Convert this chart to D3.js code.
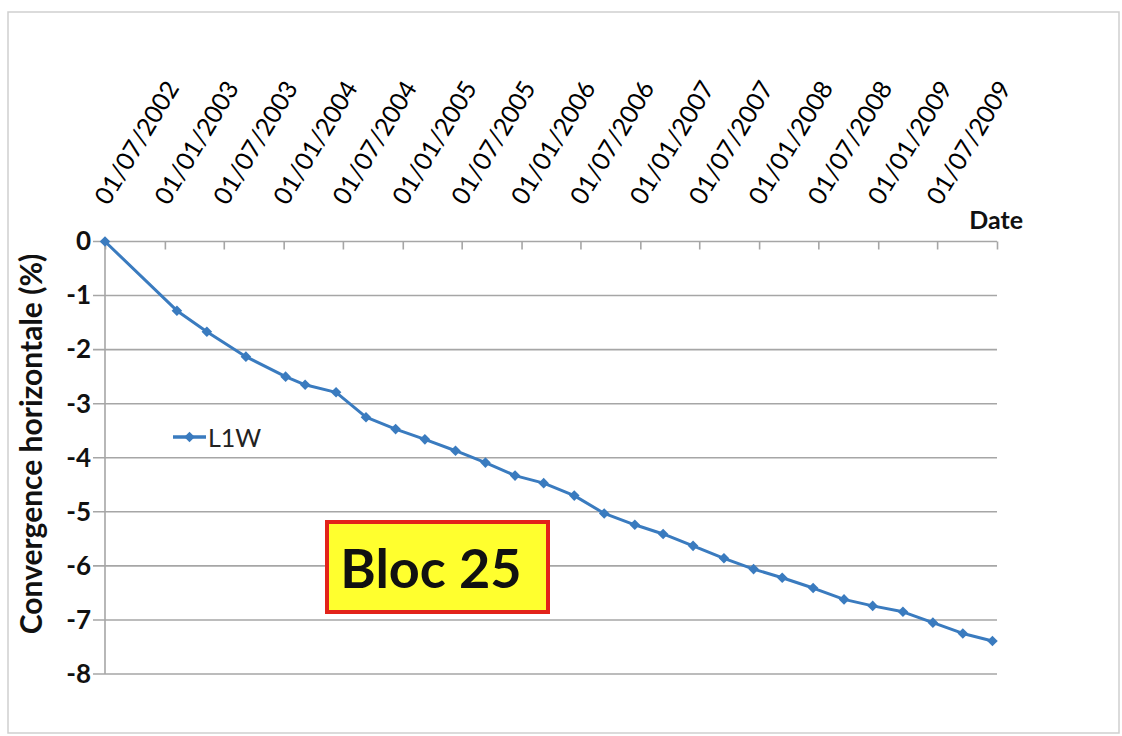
<!DOCTYPE html>
<html><head><meta charset="utf-8">
<script src="https://cdn.jsdelivr.net/npm/d3@7"></script>
<style>
body{margin:0;background:#fff;}
svg{display:block;font-family:Lato,"Open Sans",sans-serif;}
</style>
</head><body>
<svg id="chart" width="1122" height="736"></svg>
<script>
// ---- data ----
const dates = ["2002-07-01","2003-02-07","2003-05-10","2003-09-07","2004-01-07","2004-03-07","2004-06-10",
  "2004-09-10","2004-12-10","2005-03-10","2005-06-12","2005-09-12","2005-12-12","2006-03-10","2006-06-12",
  "2006-09-12","2006-12-15","2007-03-12","2007-06-12","2007-09-15","2007-12-15","2008-03-12","2008-06-15",
  "2008-09-18","2008-12-15","2009-03-18","2009-06-18","2009-09-18","2009-12-18"];
const l1w = [0,-1.28,-1.67,-2.13,-2.50,-2.65,-2.79,-3.25,-3.47,-3.66,-3.87,-4.09,-4.33,-4.47,-4.70,
  -5.03,-5.24,-5.41,-5.63,-5.86,-6.06,-6.22,-6.41,-6.62,-6.74,-6.85,-7.05,-7.25,-7.39];
const tickLabels = ["01/07/2002","01/01/2003","01/07/2003","01/01/2004","01/07/2004","01/01/2005",
  "01/07/2005","01/01/2006","01/07/2006","01/01/2007","01/07/2007","01/01/2008","01/07/2008",
  "01/01/2009","01/07/2009"];
const axisEnd = "01/01/2010";
const yTicks = [0,-1,-2,-3,-4,-5,-6,-7,-8];
const seriesName = "L1W";
const yTitle = "Convergence horizontale (%)";
const xTitle = "Date";
const boxText = "Bloc 25";

// ---- setup ----
const svg = d3.select("#chart");
const parseISO = d3.timeParse("%Y-%m-%d");
const parseFR = d3.timeParse("%d/%m/%Y");
const pts = dates.map((d,i)=>({date:parseISO(d), v:l1w[i]}));
const tickDates = tickLabels.map(parseFR).concat([parseFR(axisEnd)]);

const x = d3.scaleTime().domain([parseFR(tickLabels[0]), parseFR(axisEnd)]).range([105, 997]);
const y = d3.scaleLinear().domain([0,-8]).range([241.5, 674]);

const blue = "#3a7bbf";
const grid = "#a6a6a6";

// outer border
svg.append("rect").attr("x",8).attr("y",12).attr("width",1111).attr("height",721)
  .attr("fill","#fff").attr("stroke","#cfcfcf").attr("stroke-width",1.5);

// gridlines
svg.append("g").selectAll("line").data(yTicks).join("line")
  .attr("x1",93).attr("x2",x.range()[1])
  .attr("y1",d=>y(d)).attr("y2",d=>y(d))
  .attr("stroke",grid).attr("stroke-width",1.6);

// y axis line
svg.append("line").attr("x1",x.range()[0]).attr("x2",x.range()[0])
  .attr("y1",y(0)).attr("y2",y(-8)).attr("stroke",grid).attr("stroke-width",1.6);

// y tick labels
const yAxis = svg.append("g").attr("transform",`translate(${x.range()[0]},0)`)
  .call(d3.axisLeft(y).tickValues(yTicks).tickSize(0).tickPadding(14).tickFormat(d=>String(d)));
yAxis.select(".domain").remove();
yAxis.selectAll("text").attr("font-family","Lato, sans-serif").attr("font-size",26)
  .attr("font-weight","bold").attr("fill","#111");

// x axis on top (at y=0)
const xAxis = svg.append("g").attr("transform",`translate(0,${y(0)})`)
  .call(d3.axisTop(x).tickValues(tickDates).tickSizeInner(-8).tickSizeOuter(0)
    .tickFormat((d,i)=> tickLabels[i] || ""));
xAxis.select(".domain").remove();
xAxis.selectAll(".tick line").attr("stroke",grid).attr("stroke-width",1.6);
xAxis.selectAll("text").attr("font-family","Lato, sans-serif").attr("font-size",25)
  .attr("fill","#000").attr("text-anchor","start").attr("x",0).attr("y",0).attr("dy",0)
  .attr("transform","translate(3,-35) rotate(-59)");

// x title
svg.append("text").attr("x",1023).attr("y",229).attr("text-anchor","end")
  .attr("font-size",25).attr("font-weight","bold").attr("fill","#111").text(xTitle);

// y title
svg.append("text").attr("transform",`translate(42,444) rotate(-90)`)
  .attr("text-anchor","middle").attr("font-size",30).attr("font-weight","bold").attr("fill","#111")
  .text(yTitle);

// series line
svg.append("path").datum(pts)
  .attr("d", d3.line().x(d=>x(d.date)).y(d=>y(d.v)))
  .attr("fill","none").attr("stroke",blue).attr("stroke-width",3).attr("stroke-linejoin","round");

const marker = d3.symbol(d3.symbolSquare, 56);
svg.append("g").selectAll("path").data(pts).join("path")
  .attr("d", marker)
  .attr("transform", d=>`translate(${x(d.date)},${y(d.v)}) rotate(45)`)
  .attr("fill",blue);

// legend
const lg = svg.append("g").attr("transform","translate(173,437)");
lg.append("line").attr("x1",0).attr("x2",33).attr("y1",0).attr("y2",0)
  .attr("stroke",blue).attr("stroke-width",3.5);
lg.append("path").attr("d",marker).attr("transform","translate(16.5,0) rotate(45)").attr("fill",blue);
lg.append("text").attr("x",35).attr("y",10).attr("font-size",25).attr("fill","#222").text(seriesName);

// Bloc box
svg.append("rect").attr("x",327).attr("y",522).attr("width",221).attr("height",90)
  .attr("fill","#ffff2e").attr("stroke","#e2231a").attr("stroke-width",4);
svg.append("text").attr("x",431).attr("y",588).attr("text-anchor","middle")
  .attr("font-size",54).attr("font-weight","bold").attr("fill","#111").text(boxText);
</script>
</body></html>
